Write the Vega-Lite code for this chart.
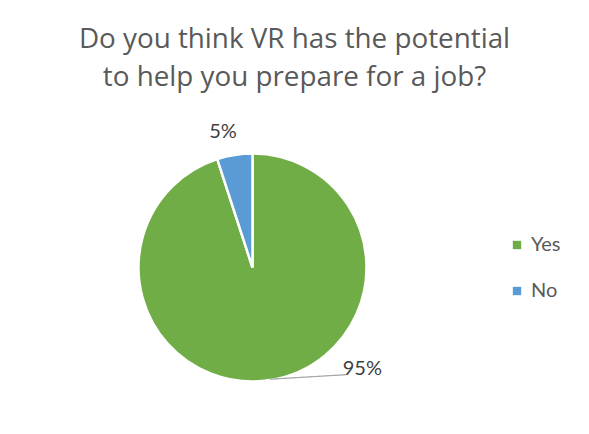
{
  "$schema": "https://vega.github.io/schema/vega-lite/v6.json",
  "autosize": "none",
  "width": 505,
  "height": 267,
  "padding": {"left": 0, "top": 134, "right": 84, "bottom": 33},
  "background": "white",
  "config": {"view": {"stroke": null}, "font": "Lato"},
  "title": {
    "text": ["Do you think VR has the potential", "to help you prepare for a job?"],
    "font": "Open Sans",
    "fontSize": 27.8,
    "fontWeight": "normal",
    "color": "#595959",
    "lineHeight": 38,
    "baseline": "alphabetic",
    "anchor": "middle",
    "dx": 42,
    "offset": 8
  },
  "data": {
    "values": [
      {"answer": "Yes", "share": 95, "label": "95%"},
      {"answer": "No", "share": 5, "label": "5%"}
    ]
  },
  "encoding": {
    "theta": {"field": "share", "type": "quantitative", "stack": true},
    "order": {"field": "answer", "sort": "descending"}
  },
  "layer": [
    {
      "mark": {"type": "arc", "outerRadius": 114, "stroke": "white", "strokeWidth": 2.5},
      "encoding": {
        "color": {
          "field": "answer",
          "type": "nominal",
          "sort": ["Yes", "No"],
          "scale": {"domain": ["Yes", "No"], "range": ["#70AD47", "#5B9BD5"]},
          "legend": {
            "title": null,
            "orient": "none",
            "legendX": 507,
            "legendY": 101,
            "symbolType": "square",
            "symbolSize": 70,
            "symbolStrokeWidth": 0,
            "labelFont": "Lato",
            "labelFontSize": 20,
            "labelColor": "#595959",
            "labelOffset": 4,
            "rowPadding": 26
          }
        }
      }
    },
    {
      "mark": {"type": "text", "radius": 137, "dx": -8, "fontSize": 20, "color": "#404040", "align": "center", "baseline": "middle"},
      "encoding": {
        "text": {"condition": {"test": "datum.answer === 'No'", "field": "label"}, "value": ""}
      }
    },
    {
      "mark": {"type": "text", "radius": 114, "dx": 92, "dy": -11, "fontSize": 20, "color": "#404040", "align": "center", "baseline": "middle"},
      "encoding": {
        "text": {"condition": {"test": "datum.answer === 'Yes'", "field": "label"}, "value": ""}
      }
    },
    {
      "mark": {"type": "text", "radius": 114, "angle": -3.4, "font": "DejaVu Sans", "fontSize": 14, "color": "#a6a6a6", "align": "left", "baseline": "middle"},
      "encoding": {
        "text": {"condition": {"test": "datum.answer === 'Yes'", "value": "─────────"}, "value": ""}
      }
    }
  ]
}
